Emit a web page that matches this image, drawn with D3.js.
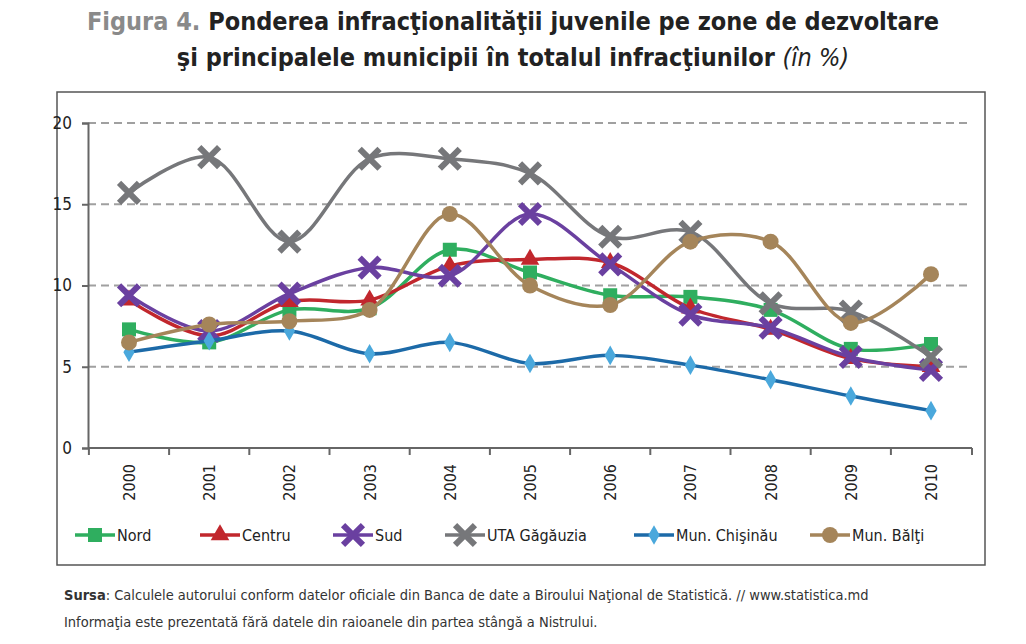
<!DOCTYPE html>
<html><head><meta charset="utf-8">
<script src="https://cdn.jsdelivr.net/npm/d3@7"></script>
<style>body{margin:0;background:#fff;font-family:"DejaVu Sans Condensed","DejaVu Sans",sans-serif;}</style>
</head><body><div id="chart"></div>
<script>
const years = ["2000","2001","2002","2003","2004","2005","2006","2007","2008","2009","2010"];
const nord = [7.3, 6.5, 8.5, 8.6, 12.2, 10.8, 9.4, 9.3, 8.5, 6.1, 6.4];
const centru = [9.1, 6.9, 9.0, 9.1, 11.2, 11.6, 11.4, 8.6, 7.3, 5.5, 5.0];
const sud = [9.4, 7.2, 9.5, 11.1, 10.6, 14.4, 11.3, 8.2, 7.4, 5.6, 4.8];
const uta = [15.7, 17.9, 12.7, 17.8, 17.8, 16.9, 13.0, 13.3, 8.9, 8.4, 5.6];
const chisinau = [5.9, 6.6, 7.2, 5.8, 6.5, 5.2, 5.7, 5.1, 4.2, 3.2, 2.3];
const balti = [6.5, 7.6, 7.8, 8.5, 14.4, 10.0, 8.8, 12.7, 12.7, 7.7, 10.7];
const yTicks = [0, 5, 10, 15, 20];

const series = [
  { name: "Nord", values: nord, line: "#2fae5f", fill: "#2fae5f", shape: "square" },
  { name: "Centru", values: centru, line: "#c1272d", fill: "#c1272d", shape: "triangle" },
  { name: "Sud", values: sud, line: "#6a40a0", fill: "#6a40a0", shape: "cross" },
  { name: "UTA Găgăuzia", values: uta, line: "#76777a", fill: "#76777a", shape: "cross" },
  { name: "Mun. Chişinău", values: chisinau, line: "#1c6aa8", fill: "#4aa8dc", shape: "diamond" },
  { name: "Mun. Bălţi", values: balti, line: "#a5855a", fill: "#a5855a", shape: "circle" }
];

const width = 1026, height = 644;
const svg = d3.select("#chart").append("svg").attr("width", width).attr("height", height);

svg.append("text").attr("x", 513).attr("y", 30).attr("text-anchor", "middle")
  .style("font-size", "25px").style("font-weight", "bold").attr("fill", "#222")
  .html('<tspan fill="#8a8a8a">Figura 4.</tspan> Ponderea infracţionalităţii juvenile pe zone de dezvoltare');
svg.append("text").attr("x", 513).attr("y", 66).attr("text-anchor", "middle")
  .style("font-size", "25px").style("font-weight", "bold").attr("fill", "#222")
  .html('şi principalele municipii în totalul infracţiunilor <tspan font-weight="normal" font-style="italic">(în %)</tspan>');

svg.append("rect").attr("x", 57).attr("y", 92).attr("width", 928).attr("height", 473)
  .attr("fill", "none").attr("stroke", "#555").attr("stroke-width", 1.5);

const x = d3.scalePoint().domain(years).range([129, 931]);
const y = d3.scaleLinear().domain([0, 20]).range([448, 123]);
const step = x.step();

const grid = svg.append("g");
yTicks.filter(t => t > 0).forEach(t => {
  grid.append("line").attr("x1", 88).attr("x2", 972).attr("y1", y(t)).attr("y2", y(t))
    .attr("stroke", "#a0a0a0").attr("stroke-width", 2).attr("stroke-dasharray", "8,5");
});

const yAxis = svg.append("g").attr("transform", "translate(88,0)")
  .call(d3.axisLeft(y).tickValues(yTicks).tickSize(6).tickPadding(10));
yAxis.selectAll("text").style("font-size", "17px").attr("fill", "#222").style("font-family", "DejaVu Sans Condensed");
yAxis.selectAll("line,path").attr("stroke", "#666").attr("stroke-width", 2);

const xAxis = svg.append("g").attr("transform", "translate(0,448)");
xAxis.append("line").attr("x1", 88).attr("x2", 972).attr("stroke", "#666").attr("stroke-width", 2);
years.forEach((yr, i) => {
  const bx = x(yr) - step / 2;
  xAxis.append("line").attr("x1", bx).attr("x2", bx).attr("y2", 7).attr("stroke", "#666").attr("stroke-width", 2);
  xAxis.append("text").attr("transform", `translate(${x(yr) + 6},${16}) rotate(-90)`)
    .attr("text-anchor", "end").style("font-size", "16px").attr("fill", "#222").text(yr);
});
xAxis.append("line").attr("x1", 972).attr("x2", 972).attr("y2", 7).attr("stroke", "#666").attr("stroke-width", 2);

const line = d3.line().x((d, i) => x(years[i])).y(d => y(d)).curve(d3.curveCatmullRom.alpha(0.5));

function marker(g, shape, fill, cx, cy, s) {
  if (shape === "square") g.append("rect").attr("x", cx - 7).attr("y", cy - 7).attr("width", 14).attr("height", 14).attr("fill", fill);
  else if (shape === "circle") g.append("circle").attr("cx", cx).attr("cy", cy).attr("r", 8).attr("fill", fill);
  else {
    const sym = { triangle: d3.symbolTriangle, cross: d3.symbolX, diamond: d3.symbolDiamond }[shape];
    const size = { triangle: 150, cross: 260, diamond: 110 }[shape];
    g.append("path").attr("transform", `translate(${cx},${cy})`)
      .attr("d", d3.symbol(sym, size)()).attr("fill", fill)
      .attr("stroke", shape === "cross" ? fill : "none").attr("stroke-width", shape === "cross" ? 6 : 0);
  }
}

series.forEach(s => {
  const g = svg.append("g");
  g.append("path").datum(s.values).attr("d", line).attr("fill", "none")
    .attr("stroke", s.line).attr("stroke-width", 3.5);
  s.values.forEach((v, i) => marker(g, s.shape, s.fill, x(years[i]), y(v)));
});

const legendX = [75, 200, 333, 445, 634, 810];
series.forEach((s, i) => {
  const g = svg.append("g").attr("transform", `translate(${legendX[i]},535)`);
  g.append("line").attr("x1", 0).attr("x2", 40).attr("stroke", s.line).attr("stroke-width", 3.5);
  marker(g, s.shape, s.fill, 20, 0);
  g.append("text").attr("x", 42).attr("y", 6).style("font-size", "16px").attr("fill", "#222").text(s.name);
});

svg.append("text").attr("x", 64).attr("y", 600).style("font-size", "14.5px").attr("fill", "#333")
  .html('<tspan font-weight="bold">Sursa</tspan>: Calculele autorului conform datelor oficiale din Banca de date a Biroului Naţional de Statistică. // www.statistica.md');
svg.append("text").attr("x", 64).attr("y", 627).style("font-size", "14.5px").attr("fill", "#333")
  .text("Informaţia este prezentată fără datele din raioanele din partea stângă a Nistrului.");
</script></body></html>
